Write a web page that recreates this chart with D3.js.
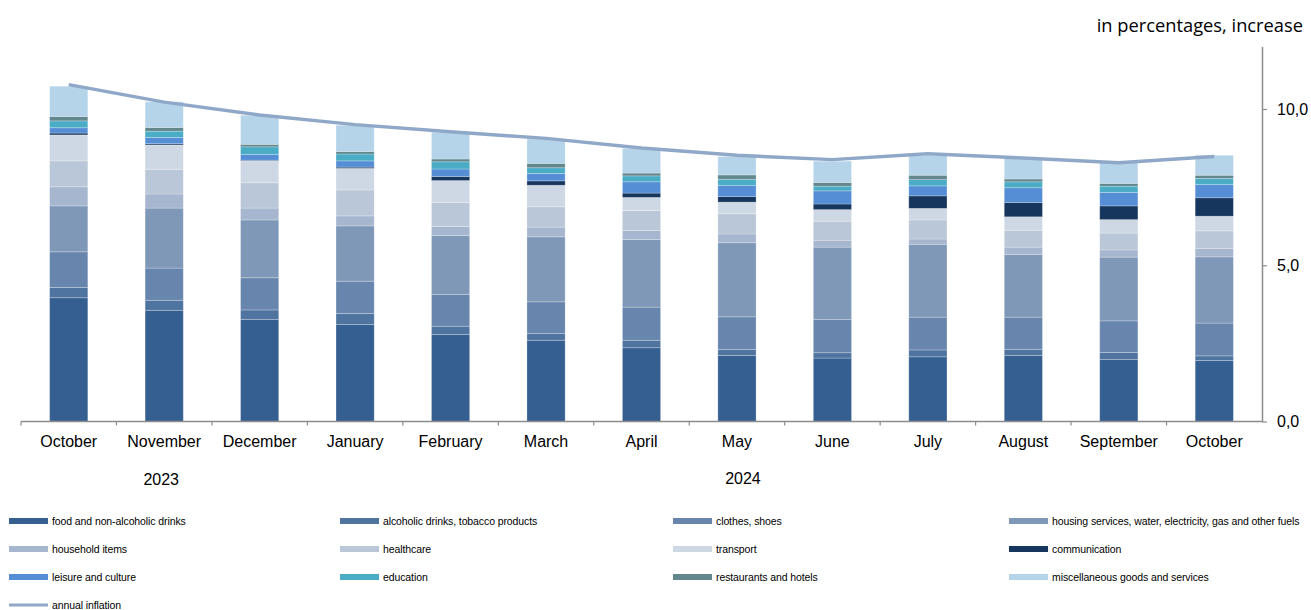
<!DOCTYPE html>
<html>
<head>
<meta charset="utf-8">
<script src="https://cdn.jsdelivr.net/npm/d3@7"></script>
<style>
  body { margin: 0; background: #fff; }
  text { font-family: "Liberation Sans", Arial, sans-serif; fill: #000; }
</style>
</head>
<body>
<div id="svganchor"></div>
<script>
let width = 1311;
let height = 610;

let months = ["October", "November", "December", "January", "February", "March", "April",
  "May", "June", "July", "August", "September", "October"];

let categories = ["food and non-alcoholic drinks", "alcoholic drinks, tobacco products", "clothes, shoes",
  "housing services, water, electricity, gas and other fuels", "household items", "healthcare", "transport",
  "communication", "leisure and culture", "education", "restaurants and hotels", "miscellaneous goods and services"];

let colors = ["#355f91", "#4f74a0", "#6886ad", "#7f98b8", "#a5b6ce", "#bac7d8", "#ced8e4",
  "#17365d", "#558ed5", "#4bacc6", "#62878d", "#b5d4ea"];

// contribution of each group, one array per month
let food = [3.96, 3.56, 3.27, 3.10, 2.78, 2.60, 2.36, 2.11, 2.03, 2.07, 2.11, 1.99, 1.95];
let alcohol = [0.33, 0.32, 0.30, 0.36, 0.27, 0.22, 0.24, 0.19, 0.17, 0.22, 0.20, 0.22, 0.15];
let clothes = [1.14, 1.03, 1.03, 1.03, 1.02, 1.01, 1.06, 1.05, 1.07, 1.05, 1.03, 1.01, 1.05];
let housing = [1.47, 1.92, 1.85, 1.77, 1.88, 2.08, 2.16, 2.37, 2.31, 2.33, 2.01, 2.04, 2.12];
let household = [0.61, 0.45, 0.38, 0.32, 0.29, 0.31, 0.29, 0.28, 0.22, 0.17, 0.23, 0.23, 0.27];
let healthcare = [0.83, 0.79, 0.81, 0.83, 0.77, 0.65, 0.64, 0.65, 0.61, 0.61, 0.54, 0.54, 0.56];
let transport = [0.83, 0.78, 0.70, 0.69, 0.70, 0.69, 0.42, 0.37, 0.37, 0.37, 0.43, 0.43, 0.47];
let communication = [0.06, 0.04, 0.02, 0.04, 0.13, 0.14, 0.14, 0.18, 0.18, 0.40, 0.46, 0.44, 0.59];
let leisure = [0.17, 0.20, 0.19, 0.20, 0.24, 0.24, 0.36, 0.35, 0.42, 0.32, 0.47, 0.43, 0.42];
let education = [0.22, 0.20, 0.24, 0.22, 0.23, 0.18, 0.19, 0.20, 0.15, 0.20, 0.19, 0.20, 0.20];
let restaurants = [0.14, 0.12, 0.08, 0.08, 0.09, 0.14, 0.09, 0.14, 0.12, 0.14, 0.09, 0.09, 0.10];
let misc = [0.97, 0.82, 0.93, 0.84, 0.86, 0.78, 0.79, 0.59, 0.68, 0.63, 0.66, 0.67, 0.64];

let inflation = [10.78, 10.22, 9.81, 9.50, 9.27, 9.06, 8.75, 8.52, 8.38, 8.57, 8.43, 8.28, 8.48];

let yTicks = [0, 5, 10];

let series = [food, alcohol, clothes, housing, household, healthcare, transport,
  communication, leisure, education, restaurants, misc];

// build rows for the stack
let rows = months.map(function (m, i) {
  let r = { idx: i };
  categories.forEach(function (c, k) { r[c] = series[k][i]; });
  return r;
});

let svg = d3.select("#svganchor").append("svg").attr("width", width).attr("height", height);

let xScale = d3.scaleBand()
  .domain(d3.range(months.length))
  .range([21, 1262])
  .paddingInner(0.6)
  .paddingOuter(0.3);

let yScale = d3.scaleLinear().domain([0, 12]).range([421.5, 46.5]);

let colorScale = d3.scaleOrdinal().domain(categories).range(colors);

let stacked = d3.stack().keys(categories)(rows);

// bars
svg.append("g")
  .selectAll("g")
  .data(stacked)
  .enter()
  .append("g")
  .attr("fill", function (d) { return colorScale(d.key); })
  .selectAll("rect")
  .data(function (d) { return d; })
  .enter()
  .append("rect")
  .attr("x", function (d) { return xScale(d.data.idx); })
  .attr("width", xScale.bandwidth())
  .attr("y", function (d) { return yScale(d[1]); })
  .attr("height", function (d) { return yScale(d[0]) - yScale(d[1]); })
  .attr("stroke", "rgba(255,255,255,0.3)")
  .attr("stroke-width", 0.8);

// x axis: line and ticks at band edges
let xAxisG = svg.append("g").attr("class", "x axis");
xAxisG.append("line")
  .attr("x1", 21).attr("x2", 1262)
  .attr("y1", yScale(0)).attr("y2", yScale(0))
  .attr("stroke", "#8c8c8c").attr("stroke-width", 1.5);

let edges = d3.range(months.length).map(function (i) {
  return xScale(i) - xScale.step() * xScale.paddingInner() / 2;
});
xAxisG.selectAll(".tk")
  .data(edges)
  .enter()
  .append("line")
  .attr("x1", function (d) { return d; })
  .attr("x2", function (d) { return d; })
  .attr("y1", yScale(0))
  .attr("y2", yScale(0) + 4)
  .attr("stroke", "#8c8c8c").attr("stroke-width", 1.2);

xAxisG.selectAll(".lbl")
  .data(months)
  .enter()
  .append("text")
  .attr("x", function (d, i) { return xScale(i) + xScale.bandwidth() / 2; })
  .attr("y", 447)
  .attr("text-anchor", "middle")
  .style("font-size", "16px")
  .text(function (d) { return d; });

svg.append("text")
  .attr("x", xScale(1) + xScale.bandwidth() / 2 - 3)
  .attr("y", 485)
  .attr("text-anchor", "middle")
  .style("font-size", "16px")
  .text("2023");

svg.append("text")
  .attr("x", xScale(7) + xScale.bandwidth() / 2 + 6)
  .attr("y", 484)
  .attr("text-anchor", "middle")
  .style("font-size", "16px")
  .text("2024");

// y axis on the right
let yAxis = d3.axisRight(yScale)
  .tickValues(yTicks)
  .tickSize(5)
  .tickSizeOuter(0)
  .tickPadding(10)
  .tickFormat(function (d) { return d3.format(".1f")(d).replace(".", ","); });

let yAxisG = svg.append("g")
  .attr("class", "y axis")
  .attr("transform", "translate(1262,0)")
  .call(yAxis);
yAxisG.select(".domain").attr("stroke", "#8c8c8c").attr("stroke-width", 1.5);
yAxisG.selectAll(".tick line").attr("stroke", "#8c8c8c").attr("stroke-width", 1.2);
yAxisG.selectAll(".tick text")
  .style("font-size", "16px")
  .style("font-family", "'Liberation Sans', Arial, sans-serif")
  .attr("fill", "#000");

svg.append("text")
  .attr("x", 1303)
  .attr("y", 32)
  .attr("text-anchor", "end")
  .style("font-family", "'Open Sans', Lato, sans-serif")
  .style("font-size", "18.3px")
  .text("in percentages, increase");

// annual inflation line
let line = d3.line()
  .x(function (d, i) { return xScale(i) + xScale.bandwidth() / 2; })
  .y(function (d) { return yScale(d); });

svg.append("path")
  .datum(inflation)
  .attr("d", line)
  .attr("fill", "none")
  .attr("stroke", "#8fa8c8")
  .attr("stroke-width", 3.5)
  .attr("stroke-linejoin", "round");

// legend
let legendItems = categories.map(function (c, k) { return { name: c, color: colors[k], type: "rect" }; });
legendItems.push({ name: "annual inflation", color: "#8fa8c8", type: "line" });

let colX = [9, 340, 673, 1009];
let rowY = [521, 549, 577, 605];

let legend = svg.append("g").attr("class", "legend")
  .selectAll("g")
  .data(legendItems)
  .enter()
  .append("g")
  .attr("transform", function (d, i) {
    return "translate(" + colX[i % 4] + "," + rowY[Math.floor(i / 4)] + ")";
  });

legend.filter(function (d) { return d.type === "rect"; })
  .append("rect")
  .attr("x", 0).attr("y", -3)
  .attr("width", 39).attr("height", 6)
  .attr("fill", function (d) { return d.color; });

legend.filter(function (d) { return d.type === "line"; })
  .append("line")
  .attr("x1", 0).attr("x2", 39)
  .attr("y1", 0).attr("y2", 0)
  .attr("stroke", function (d) { return d.color; })
  .attr("stroke-width", 3);

legend.append("text")
  .attr("x", 43)
  .attr("y", 4)
  .style("font-size", "10.5px")
  .style("letter-spacing", "-0.1px")
  .text(function (d) { return d.name; });
</script>
</body>
</html>
